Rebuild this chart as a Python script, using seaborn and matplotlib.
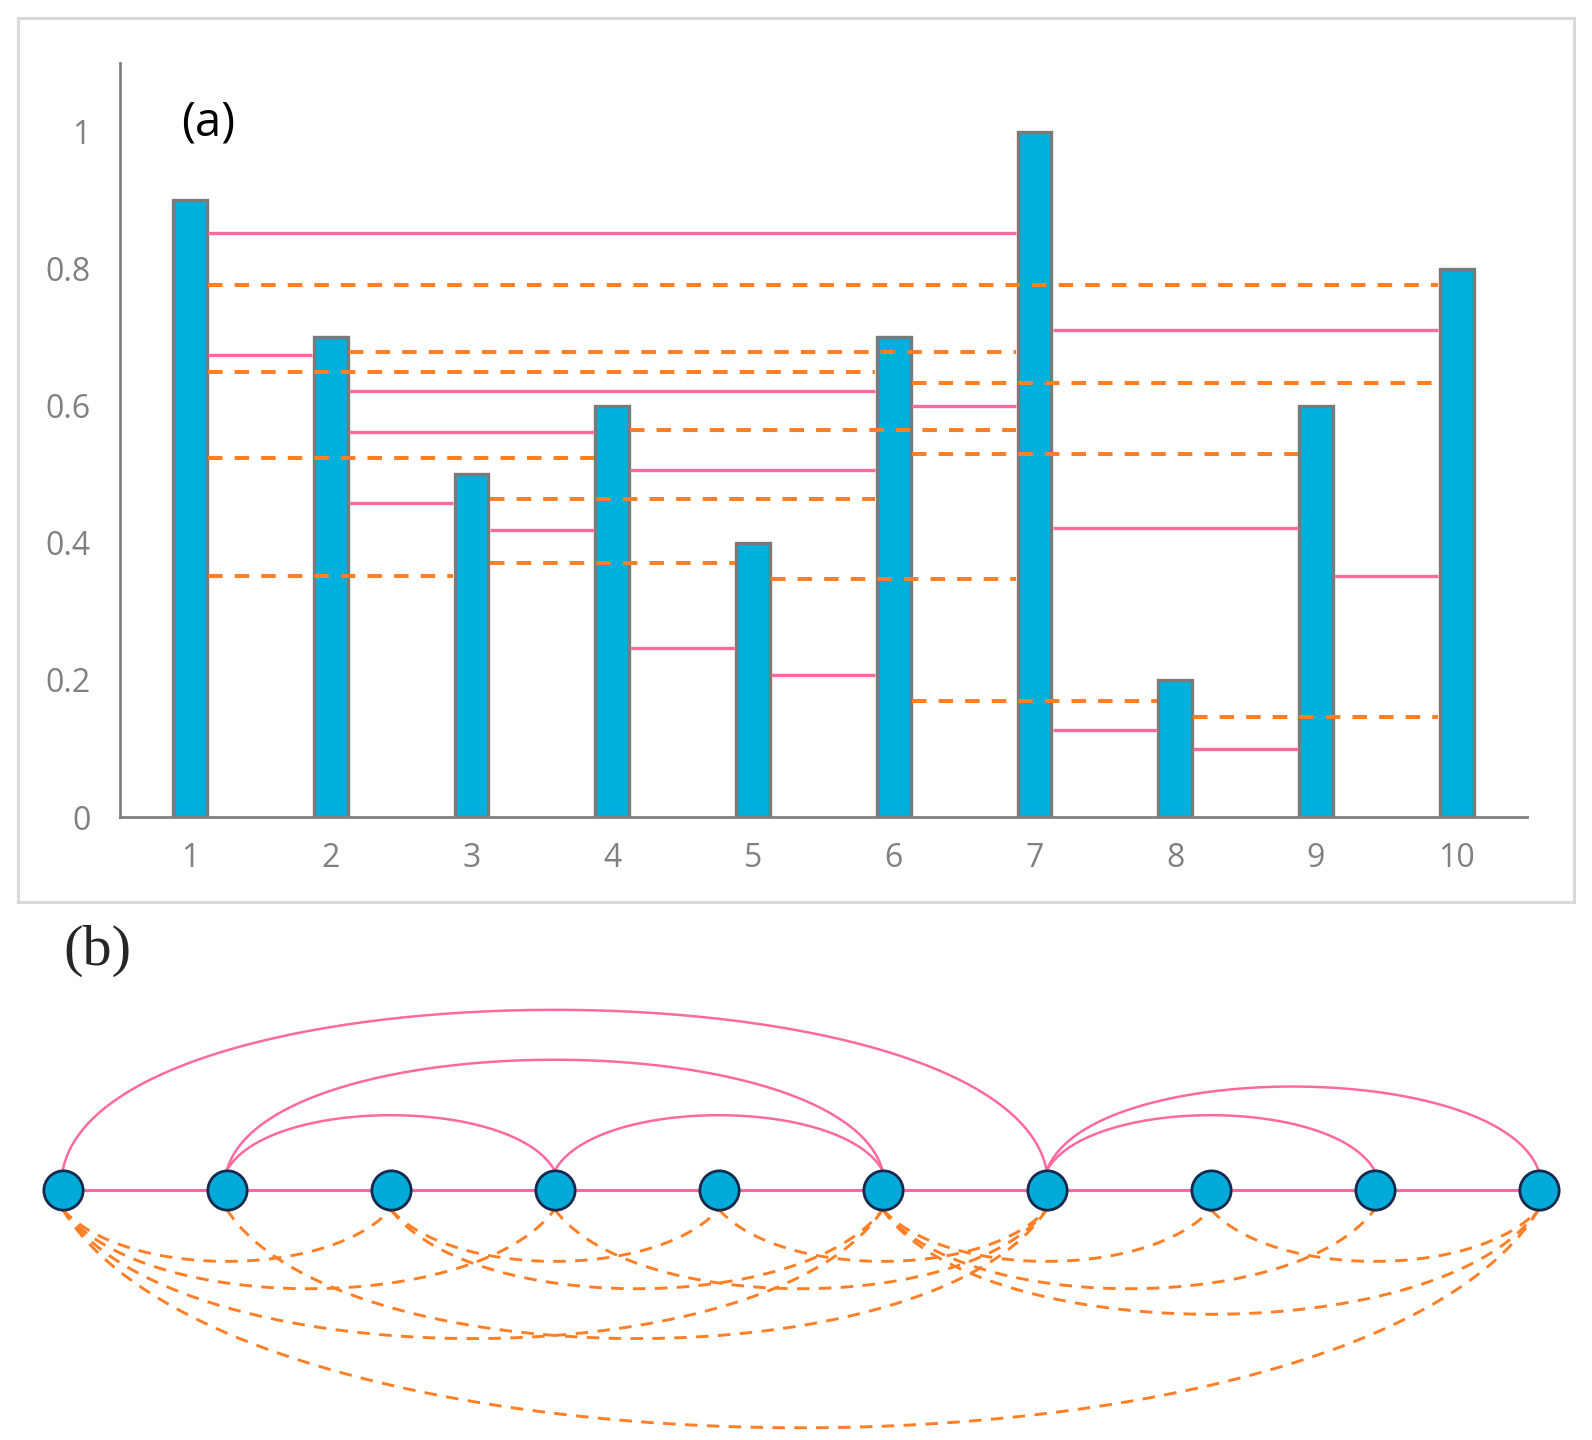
import matplotlib
matplotlib.use("Agg")
import matplotlib.pyplot as plt
import numpy as np
import pandas as pd
import seaborn as sns
from matplotlib.patches import Rectangle

# series and visibility links
steps = [1, 2, 3, 4, 5, 6, 7, 8, 9, 10]
values = [0.9, 0.7, 0.5, 0.6, 0.4, 0.7, 1.0, 0.2, 0.6, 0.8]

# horizontal visibility links (solid pink) and their drawn heights
hvg_pairs = [(1, 2), (1, 7), (2, 3), (2, 4), (2, 6), (3, 4), (4, 5), (4, 6),
             (5, 6), (6, 7), (7, 8), (7, 9), (7, 10), (8, 9), (9, 10)]
hvg_levels = [0.674, 0.852, 0.458, 0.562, 0.622, 0.419, 0.247, 0.507,
              0.207, 0.599, 0.127, 0.421, 0.711, 0.100, 0.351]

# penetrable links (dashed orange) and their drawn heights
lp_pairs = [(1, 3), (1, 4), (1, 6), (1, 10), (2, 7), (3, 5), (3, 6),
            (4, 7), (5, 7), (6, 8), (6, 9), (6, 10), (8, 10)]
lp_levels = [0.352, 0.5245, 0.650, 0.776, 0.679, 0.370, 0.464,
             0.565, 0.347, 0.170, 0.530, 0.633, 0.146]

y_ticks = [0, 0.2, 0.4, 0.6, 0.8, 1]
y_tick_labels = ['0', '0.2', '0.4', '0.6', '0.8', '1']

BAR = '#00B0DC'
BAR_EDGE = '#7A7A7A'
AXIS = '#808080'
PINK = '#FF6A9E'
ORANGE = '#FF7F27'
NODE = '#00AAD8'
NODE_EDGE = '#14294B'

sns.set_style('white')
plt.rcParams['font.family'] = ['Open Sans', 'DejaVu Sans']

fig = plt.figure(figsize=(15.92, 14.4), dpi=100)

# ---- (a) bars with visibility lines
ax = fig.add_axes([0.0751, 0.4326, 0.8841, 0.5236])
df = pd.DataFrame({'step': steps, 'value': values})
sns.barplot(data=df, x='step', y='value', native_scale=True, width=0.24,
            color=BAR, saturation=1, edgecolor=BAR_EDGE, linewidth=2.4,
            errorbar=None, ax=ax, zorder=2)

half = 0.13
for (i, j), lev in zip(hvg_pairs, hvg_levels):
    ax.plot([i + half, j - half], [lev, lev], color=PINK, lw=2.4,
            solid_capstyle='butt', zorder=3)
for (i, j), lev in zip(lp_pairs, lp_levels):
    ax.plot([i + half, j - half], [lev, lev], color=ORANGE, lw=2.9,
            dashes=(3.6, 3.0), dash_capstyle='butt', zorder=4)

ax.set_xlim(0.5, 10.5)
ax.set_ylim(0, 1.1)
ax.set_xticks(steps, [str(s) for s in steps])
ax.set_yticks(y_ticks, y_tick_labels)
ax.set_xlabel('')
ax.set_ylabel('')
for s in ['top', 'right']:
    ax.spines[s].set_visible(False)
for s in ['left', 'bottom']:
    ax.spines[s].set_color(AXIS)
    ax.spines[s].set_linewidth(2)
ax.tick_params(axis='y', direction='in', length=6.5, width=2, color=AXIS,
               pad=21, labelsize=23, labelcolor=AXIS)
ax.tick_params(axis='x', length=0, pad=18, labelsize=23, labelcolor=AXIS)
ax.text(0.0629, 0.9204, '(a)', transform=ax.transAxes, fontsize=34,
        ha='center', va='center', color='black')

fig.add_artist(Rectangle((0.0113, 0.3736), 0.9774, 0.6139,
                         transform=fig.transFigure, fill=False,
                         edgecolor='#D9D9D9', lw=2.2))

# ---- (b) the graph drawn as arcs
fig.text(0.0612, 0.3396, '(b)', fontsize=42, ha='center', va='center',
         family=['Liberation Serif', 'DejaVu Serif'])

ax_b = fig.add_axes([0, 0, 1, 480 / 1440])
node_r = 0.118


def curve(i, j, base, depth, pull):
    t = np.linspace(0, 1, 200)
    cx = [i, i + pull, j - pull, j]
    cy = [base, base + depth / 0.75, base + depth / 0.75, base]
    w = [(1 - t) ** 3, 3 * (1 - t) ** 2 * t, 3 * (1 - t) * t ** 2, t ** 3]
    x = sum(wk * c for wk, c in zip(w, cx))
    y = sum(wk * c for wk, c in zip(w, cy))
    return x, y


ax_b.plot(steps, [0] * len(steps), color=PINK, lw=2.2, zorder=1)
for i, j in hvg_pairs:
    if j - i > 1:
        x, y = curve(i, j, node_r, 0.262 * (j - i) ** 0.8 - node_r, 0.25)
        ax_b.plot(x, y, color=PINK, lw=1.8, zorder=1)
for i, j in lp_pairs:
    x, y = curve(i, j, -node_r, -(0.25 * (j - i) ** 0.8 - node_r),
                 0.18 + 0.1 * (j - i))
    ax_b.plot(x, y, color=ORANGE, lw=2.1, dashes=(4.3, 3.2), zorder=1)

sns.scatterplot(x=steps, y=[0] * len(steps), s=800, color=NODE,
                edgecolor=NODE_EDGE, linewidth=2, ax=ax_b, zorder=3,
                legend=False)
ax_b.set_xlim(1 - 62.7 / 164, 1 + (1592 - 62.7) / 164)
ax_b.set_ylim(-250 / 164, 230 / 164)
ax_b.axis('off')

fig.savefig('out.png', dpi=100)
